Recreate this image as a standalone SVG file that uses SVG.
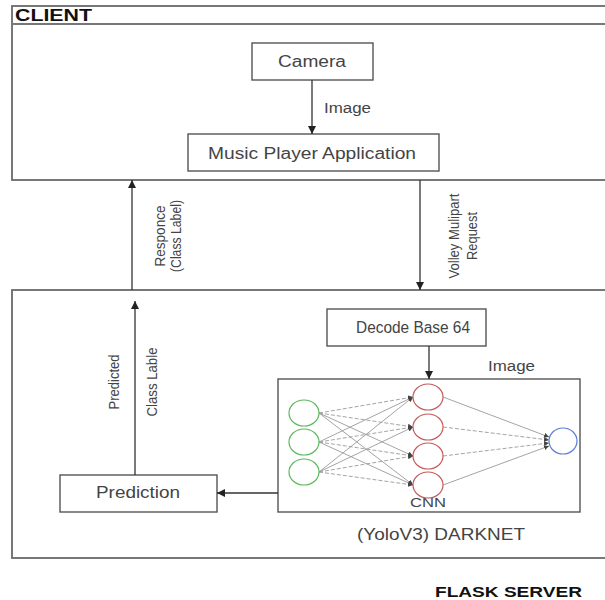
<svg xmlns="http://www.w3.org/2000/svg" width="605" height="600" viewBox="0 0 605 600">
<defs>
<style>
text{font-family:"Liberation Sans",Arial,sans-serif;fill:#444}
.t{font-size:16px;text-anchor:middle}
.s{font-size:14px;text-anchor:middle}
.hd{font-weight:bold;fill:#111}
.box{fill:#fff;stroke:#555;stroke-width:1.4}
.frame{fill:#fff;stroke:#6a6a6a;stroke-width:1.8}
.c{stroke:#333;stroke-width:1.3;fill:none}
.nn{stroke:#9a9a9a;stroke-width:0.9;fill:none}
.d{stroke-dasharray:4 2}
.g{fill:#fff;stroke:#5cb85c;stroke-width:1.2}
.r{fill:#fff;stroke:#c65a5a;stroke-width:1.2}
.b{fill:#fff;stroke:#5a7bd6;stroke-width:1.2}
</style>
<marker id="ah" viewBox="0 0 10 10" refX="10" refY="5" markerWidth="8" markerHeight="8" orient="auto" markerUnits="userSpaceOnUse"><path d="M0,0 L10,5 L0,10 z" fill="#222"/></marker>
<marker id="sa" viewBox="0 0 10 10" refX="10" refY="5" markerWidth="5" markerHeight="5" orient="auto" markerUnits="userSpaceOnUse"><path d="M0,0 L10,5 L0,10 z" fill="#444"/></marker>
</defs>
<rect width="605" height="600" fill="#fff"/>
<g id="client">
<rect class="frame" x="12" y="6" width="600" height="174"/>
<line x1="12" y1="24" x2="605" y2="24" stroke="#777" stroke-width="1.8"/>
<text class="hd" x="15" y="21" font-size="16" textLength="77" lengthAdjust="spacingAndGlyphs">CLIENT</text>
</g>
<g id="server">
<rect class="frame" x="12" y="290" width="600" height="268"/>
<text class="hd" x="435" y="597" font-size="15" textLength="147" lengthAdjust="spacingAndGlyphs">FLASK SERVER</text>
</g>
<g id="camera">
<rect class="box" x="252" y="43" width="121" height="37"/>
<text class="t" x="312" y="67" textLength="68" lengthAdjust="spacingAndGlyphs">Camera</text>
</g>
<g id="music">
<rect class="box" x="188" y="134" width="251" height="37"/>
<text class="t" x="312" y="159" textLength="208" lengthAdjust="spacingAndGlyphs">Music Player Application</text>
</g>
<g id="decode">
<rect class="box" x="327" y="309" width="159" height="37"/>
<text class="t" x="413" y="333" textLength="114" lengthAdjust="spacingAndGlyphs">Decode Base 64</text>
</g>
<g id="prediction">
<rect class="box" x="60" y="475" width="157" height="37"/>
<text class="t" x="138" y="498" textLength="84" lengthAdjust="spacingAndGlyphs">Prediction</text>
</g>
<g id="darknet">
<rect class="box" x="278" y="379" width="302" height="133"/>
<text x="428" y="507" font-size="12" text-anchor="middle" textLength="36" lengthAdjust="spacingAndGlyphs">CNN</text>
<text class="t" x="441" y="540" textLength="168" lengthAdjust="spacingAndGlyphs">(YoloV3) DARKNET</text>
<g id="nn-links">
<line class="nn d" x1="319" y1="413" x2="413" y2="397" marker-end="url(#sa)"/>
<line class="nn d" x1="319" y1="413" x2="413" y2="427" marker-end="url(#sa)"/>
<line class="nn" x1="319" y1="413" x2="413" y2="456" marker-end="url(#sa)"/>
<line class="nn" x1="319" y1="413" x2="413" y2="485" marker-end="url(#sa)"/>
<line class="nn" x1="319" y1="442" x2="413" y2="397" marker-end="url(#sa)"/>
<line class="nn d" x1="319" y1="442" x2="413" y2="427" marker-end="url(#sa)"/>
<line class="nn d" x1="319" y1="442" x2="413" y2="456" marker-end="url(#sa)"/>
<line class="nn" x1="319" y1="442" x2="413" y2="485" marker-end="url(#sa)"/>
<line class="nn" x1="319" y1="472" x2="413" y2="397" marker-end="url(#sa)"/>
<line class="nn" x1="319" y1="472" x2="413" y2="427" marker-end="url(#sa)"/>
<line class="nn d" x1="319" y1="472" x2="413" y2="456" marker-end="url(#sa)"/>
<line class="nn d" x1="319" y1="472" x2="413" y2="485" marker-end="url(#sa)"/>
<line class="nn" x1="443" y1="397" x2="549" y2="437" marker-end="url(#sa)"/>
<line class="nn d" x1="443" y1="427" x2="549" y2="440" marker-end="url(#sa)"/>
<line class="nn d" x1="443" y1="456" x2="549" y2="443" marker-end="url(#sa)"/>
<line class="nn" x1="443" y1="485" x2="549" y2="446" marker-end="url(#sa)"/>
</g>
<ellipse class="g" cx="304" cy="413" rx="15" ry="13"/>
<ellipse class="g" cx="304" cy="442" rx="15" ry="13"/>
<ellipse class="g" cx="304" cy="472" rx="15" ry="13"/>
<ellipse class="r" cx="428" cy="397" rx="15" ry="13"/>
<ellipse class="r" cx="428" cy="427" rx="15" ry="13"/>
<ellipse class="r" cx="428" cy="456" rx="15" ry="13"/>
<ellipse class="r" cx="428" cy="485" rx="15" ry="13"/>
<ellipse class="b" cx="563" cy="441" rx="14" ry="13"/>
</g>
<g id="connectors">
<line class="c" x1="312" y1="80" x2="312" y2="134" marker-end="url(#ah)"/>
<text x="324" y="113" font-size="14" textLength="47" lengthAdjust="spacingAndGlyphs">Image</text>
<line class="c" x1="132" y1="290" x2="132" y2="180" marker-end="url(#ah)"/>
<text class="s" transform="translate(165,236) rotate(-90)" textLength="61" lengthAdjust="spacingAndGlyphs">Responce</text>
<text class="s" transform="translate(181,236) rotate(-90)" textLength="72" lengthAdjust="spacingAndGlyphs">(Class Label)</text>
<line class="c" x1="420" y1="180" x2="420" y2="290" marker-end="url(#ah)"/>
<text class="s" transform="translate(459,236) rotate(-90)" textLength="85" lengthAdjust="spacingAndGlyphs">Volley Mulipart</text>
<text class="s" transform="translate(477,236) rotate(-90)" textLength="48" lengthAdjust="spacingAndGlyphs">Request</text>
<line class="c" x1="429" y1="346" x2="429" y2="379" marker-end="url(#ah)"/>
<text x="488" y="371" font-size="14" textLength="47" lengthAdjust="spacingAndGlyphs">Image</text>
<line class="c" x1="278" y1="493" x2="217" y2="493" marker-end="url(#ah)"/>
<line class="c" x1="135" y1="475" x2="135" y2="301" marker-end="url(#ah)"/>
<text class="s" transform="translate(119,382) rotate(-90)" textLength="55" lengthAdjust="spacingAndGlyphs">Predicted</text>
<text class="s" transform="translate(157,382) rotate(-90)" textLength="69" lengthAdjust="spacingAndGlyphs">Class Lable</text>
</g>
</svg>
